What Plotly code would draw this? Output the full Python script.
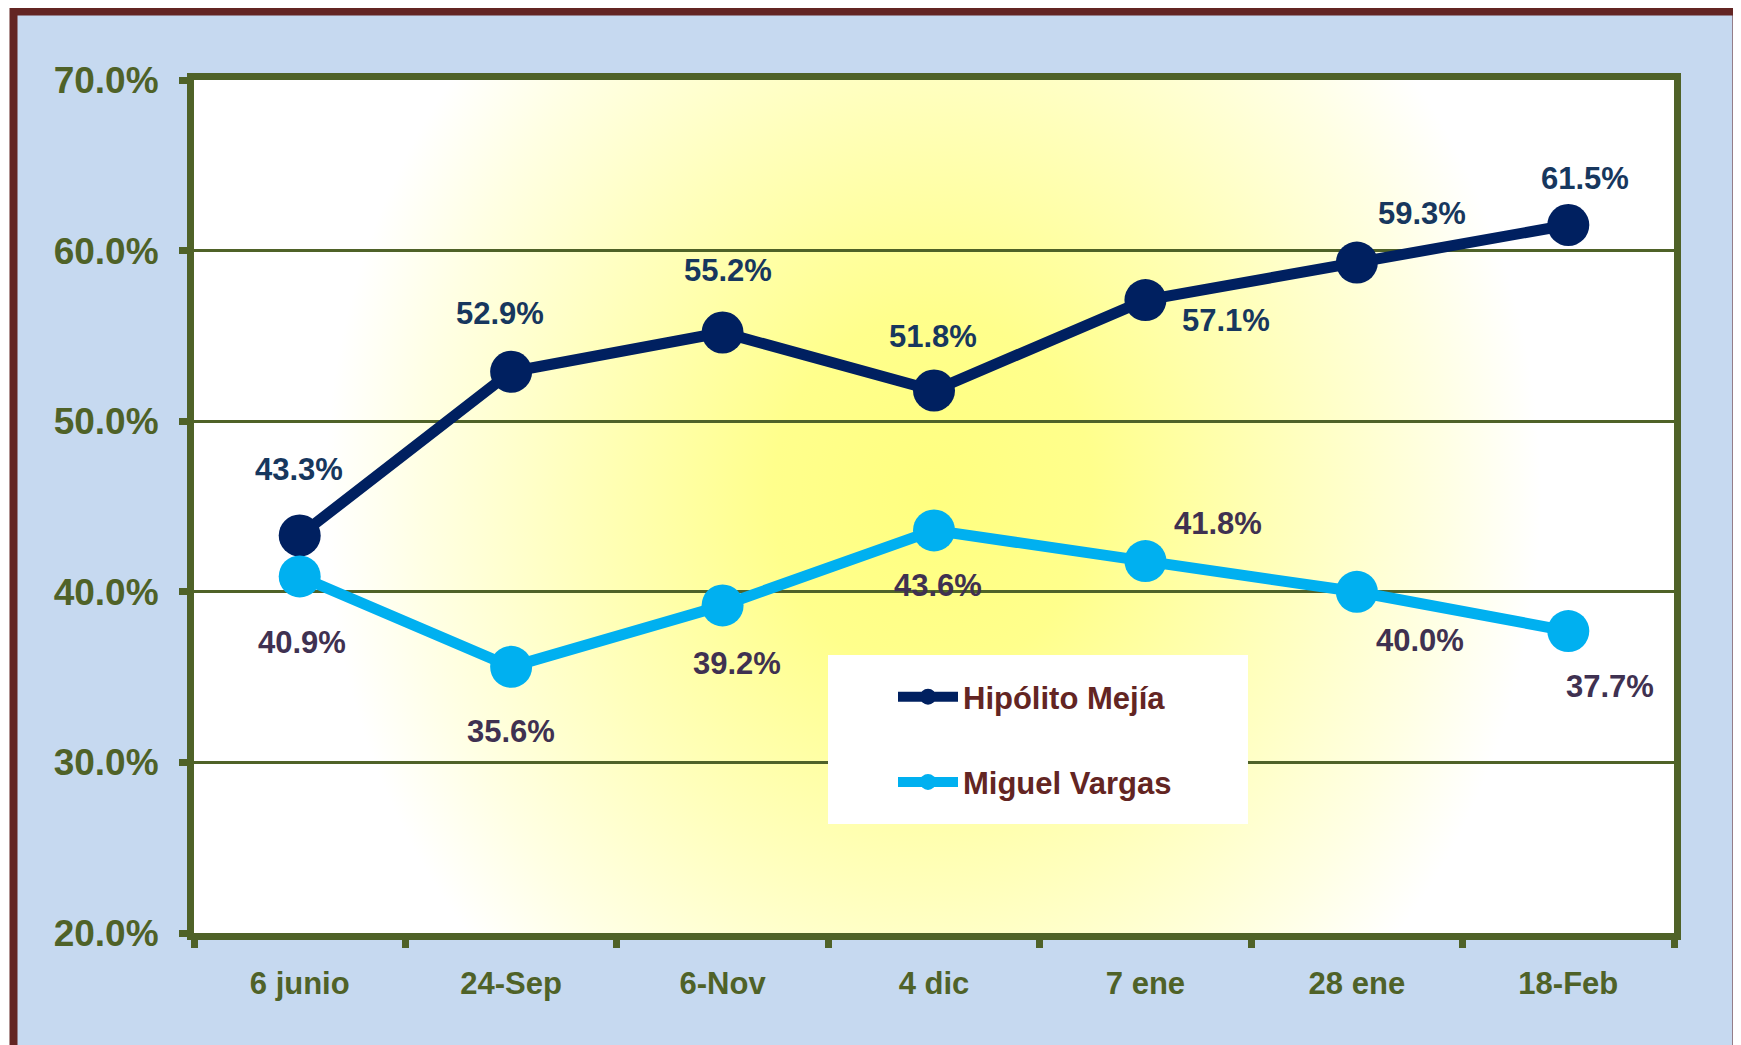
import base64
import plotly.graph_objects as go

# ---------------- data ----------------
categories = ["6 junio", "24-Sep", "6-Nov", "4 dic", "7 ene", "28 ene", "18-Feb"]
hipolito = [43.3, 52.9, 55.2, 51.8, 57.1, 59.3, 61.5]
miguel = [40.9, 35.6, 39.2, 43.6, 41.8, 40.0, 37.7]
y_ticks = [20, 30, 40, 50, 60, 70]
y_tick_labels = ["20.0%", "30.0%", "40.0%", "50.0%", "60.0%", "70.0%"]
series_names = ["Hipólito Mejía", "Miguel Vargas"]

# label pixel offsets (style only): dx right, dy down
hip_dx = [-1, -11, 5, -1, 81, 65, 17]
hip_dy = [-66, -58, -62, -54, 20, -49, -47]
mig_dx = [2, 0, 14, 4, 73, 63, 42]
mig_dy = [66, 65, 58, 55, -38, 49, 55]

# ---------------- style ----------------
OFF = 8  # page body margin
W, H = 1741 - OFF, 1045 - OFF
ML, MT = 194 - OFF, 80 - OFF
MR = W - (1674 - OFF)
MB = H - (933 - OFF)
PW, PH = W - ML - MR, H - MT - MB
FONT = "Liberation Sans, Arial, Helvetica, sans-serif"
OLIVE = "#4F6228"
NAVY = "#002060"
CYAN = "#00B0F0"
HIP_LBL = "#17375E"
MIG_LBL = "#3F3151"
BROWN = "#632523"
BLUEBG = "#C6D9F0"


def px_x(p):  # page pixel -> paper fraction
    return (p - OFF - ML) / PW


def px_y(p):
    return (MT + PH - (p - OFF)) / PH


# radial yellow glow for plot area
cx, cy = 739, 415
svg = f'''<svg xmlns="http://www.w3.org/2000/svg" width="{PW}" height="{PH}" viewBox="0 0 {PW} {PH}" preserveAspectRatio="none">
<defs><radialGradient id="g" gradientUnits="userSpaceOnUse" cx="{cx}" cy="{cy}" r="640"
 gradientTransform="translate({cx},{cy}) scale(1,1.12) translate({-cx},{-cy})">
<stop offset="0" stop-color="#FFFF80"/>
<stop offset="0.25" stop-color="#FFFF8C"/>
<stop offset="0.55" stop-color="#FFFFBB"/>
<stop offset="0.8" stop-color="#FFFFE4"/>
<stop offset="0.95" stop-color="#FFFFFF"/>
</radialGradient></defs>
<rect x="0" y="0" width="{PW}" height="{PH}" fill="#FFFFFF"/>
<rect x="0" y="0" width="{PW}" height="{PH}" fill="url(#g)"/>
</svg>'''
src = "data:image/svg+xml;base64," + base64.b64encode(svg.encode()).decode()

fig = go.Figure()
fig.add_trace(go.Scatter(
    x=categories, y=hipolito, name=series_names[0], legendgroup="a",
    mode="lines+markers", line=dict(color=NAVY, width=11),
    marker=dict(color=NAVY, size=42), hoverinfo="skip"))
fig.add_trace(go.Scatter(
    x=categories, y=miguel, name=series_names[1], legendgroup="b",
    mode="lines+markers", line=dict(color=CYAN, width=11),
    marker=dict(color=CYAN, size=42), hoverinfo="skip"))

annotations = []
for vals, dxs, dys, col in [(hipolito, hip_dx, hip_dy, HIP_LBL), (miguel, mig_dx, mig_dy, MIG_LBL)]:
    for c, v, dx, dy in zip(categories, vals, dxs, dys):
        annotations.append(dict(
            x=c, y=v, text=f"{v:.1f}%", showarrow=False,
            xshift=dx, yshift=-dy, xanchor="center", yanchor="middle",
            font=dict(family=FONT, size=31, color=col, weight="bold")))

shapes = [
    # outer panel with border
    dict(type="rect", xref="paper", yref="paper", layer="below",
         x0=px_x(13.5), x1=px_x(1736.5), y0=px_y(1070), y1=px_y(11.5),
         line=dict(color=BROWN, width=8), fillcolor=BLUEBG),
    # white plot area fallback
    dict(type="rect", xref="paper", yref="paper", layer="below",
         x0=0, x1=1, y0=0, y1=1, line=dict(width=0), fillcolor="#FFFFFF"),
    # legend box
    dict(type="rect", xref="paper", yref="paper", layer="above",
         x0=px_x(828), x1=px_x(1248), y0=px_y(824), y1=px_y(655),
         line=dict(width=0), fillcolor="#FFFFFF"),
]

fig.update_layout(
    width=W, height=H,
    margin=dict(l=ML, r=MR, t=MT, b=MB, pad=0),
    paper_bgcolor="#FFFFFF", plot_bgcolor="rgba(0,0,0,0)",
    font=dict(family=FONT, weight="bold"),
    showlegend=True,
    legend=dict(x=px_x(893), y=px_y(670), xanchor="left", yanchor="top",
                bgcolor="rgba(0,0,0,0)", borderwidth=0,
                font=dict(family=FONT, size=31, color=BROWN, weight="bold"),
                traceorder="grouped", tracegroupgap=42, itemwidth=60),
    xaxis=dict(type="category", range=[-0.5, len(categories) - 0.5],
               tickson="boundaries", ticks="outside", ticklen=8, tickwidth=7,
               tickcolor=OLIVE, showline=True, linewidth=7, linecolor=OLIVE,
               mirror=True, showgrid=False, zeroline=False,
               tickfont=dict(family=FONT, size=31, color=OLIVE, weight="bold"),
               ticklabelstandoff=17),
    yaxis=dict(range=[20, 70], tickmode="array", tickvals=y_ticks, ticktext=y_tick_labels,
               ticks="outside", ticklen=8, tickwidth=7, tickcolor=OLIVE,
               showline=True, linewidth=7, linecolor=OLIVE, mirror=True,
               showgrid=True, gridcolor=OLIVE, gridwidth=3, zeroline=False,
               tickfont=dict(family=FONT, size=37, color=OLIVE, weight="bold"),
               ticklabelstandoff=13),
    annotations=annotations,
    shapes=shapes,
    images=[dict(source=src, xref="x", yref="y", x=-0.5, y=70,
                 sizex=len(categories), sizey=50, sizing="stretch",
                 xanchor="left", yanchor="top", layer="below")],
)

fig.write_html("out.html")
